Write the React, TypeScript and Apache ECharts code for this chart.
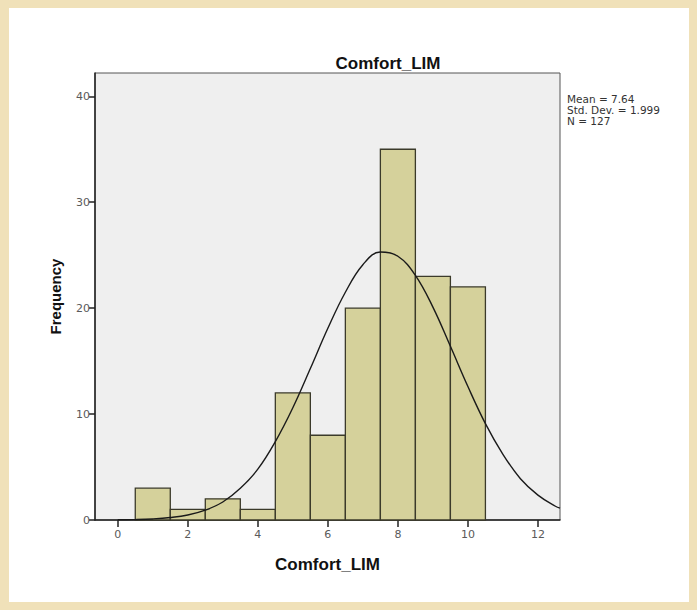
import React, { useEffect, useRef } from "react";
import * as echarts from "echarts";

const binCenters = [1, 2, 3, 4, 5, 6, 7, 8, 9, 10];
const frequencies = [3, 1, 2, 1, 12, 8, 20, 35, 23, 22];
const curveX = [0, 0.5, 1, 1.5, 2, 2.5, 3, 3.5, 4, 4.5, 5, 5.5, 6, 6.5, 7, 7.5, 8, 8.5, 9, 9.5, 10, 10.5, 11, 11.5, 12, 12.5, 12.63];
const curveY = [0.02, 0.04, 0.1, 0.23, 0.47, 0.93, 1.7, 3.0, 4.8, 7.4, 10.6, 14.3, 18.1, 21.5, 24.1, 25.3, 24.9, 23.1, 20.1, 16.4, 12.6, 9.1, 6.2, 3.9, 2.35, 1.3, 1.12];
const xTicks = [0, 2, 4, 6, 8, 10, 12];
const yTicks = [0, 10, 20, 30, 40];
const statLines = ["Mean = 7.64", "Std. Dev. = 1.999", "N = 127"];
const titleText = "Comfort_LIM";
const xName = "Comfort_LIM";
const yName = "Frequency";

export default function App() {
  const ref = useRef<HTMLDivElement>(null);
  useEffect(() => {
    if (!ref.current) return;
    const chart = echarts.init(ref.current, null, { renderer: "svg" });
    const barData = binCenters.map((c, i) => [c - 0.5, c + 0.5, frequencies[i]]);
    const lineData = curveX.map((x, i) => [x, curveY[i]]);
    chart.setOption({
      animation: false,
      backgroundColor: "#f0e1b9",
      graphic: [
        {
          type: "rect",
          z: -10,
          silent: true,
          shape: { x: 9, y: 8, width: 680, height: 594 },
          style: { fill: "#ffffff" },
        },
        {
          type: "text",
          left: 567,
          top: 93,
          style: {
            text: statLines.join("\n"),
            font: "10.5px 'DejaVu Sans'",
            lineHeight: 11,
            fill: "#333",
          },
        },
      ],
      title: {
        text: titleText,
        left: 383,
        top: 50,
        textAlign: "center",
        textStyle: { fontFamily: "Liberation Sans", fontWeight: "bold", fontSize: 17, color: "#111" },
      },
      grid: {
        left: 95,
        top: 73,
        right: 137,
        bottom: 90,
        show: true,
        backgroundColor: "#efefef",
        borderColor: "#555",
        borderWidth: 1,
      },
      xAxis: {
        type: "value",
        min: -0.65,
        max: 12.63,
        name: xName,
        nameLocation: "middle",
        nameGap: 36,
        nameTextStyle: { fontFamily: "Liberation Sans", fontWeight: "bold", fontSize: 17, color: "#111" },
        axisLine: { show: true, onZero: false, lineStyle: { color: "#222", width: 1.5 } },
        axisTick: { show: true, customValues: xTicks, length: 7, lineStyle: { color: "#222", width: 1.5 } },
        axisLabel: { customValues: xTicks, color: "#5a5a5a", fontFamily: "DejaVu Sans", fontSize: 11, margin: 9 },
        splitLine: { show: false },
      },
      yAxis: {
        type: "value",
        min: 0,
        max: 42.2,
        name: yName,
        nameLocation: "middle",
        nameGap: 32,
        nameTextStyle: { fontFamily: "Liberation Sans", fontWeight: "bold", fontSize: 15, color: "#111" },
        axisLine: { show: true, onZero: false, lineStyle: { color: "#222", width: 1.5 } },
        axisTick: { show: true, customValues: yTicks, length: 6, lineStyle: { color: "#222", width: 1.5 } },
        axisLabel: { customValues: yTicks, color: "#5a5a5a", fontFamily: "DejaVu Sans", fontSize: 11, margin: 5 },
        splitLine: { show: false },
      },
      series: [
        {
          type: "custom",
          data: barData,
          renderItem: (params: any, api: any) => {
            const x0 = api.value(0);
            const x1 = api.value(1);
            const v = api.value(2);
            const p0 = api.coord([x0, v]);
            const p1 = api.coord([x1, 0]);
            return {
              type: "rect",
              shape: { x: p0[0], y: p0[1], width: p1[0] - p0[0], height: p1[1] - p0[1] },
              style: { fill: "#d5d19b", stroke: "#3b3a2a", lineWidth: 1.3 },
            };
          },
          encode: { x: [0, 1], y: 2 },
          z: 2,
        },
        {
          type: "line",
          data: lineData,
          smooth: 0.4,
          showSymbol: false,
          lineStyle: { color: "#1a1a1a", width: 1.4 },
          z: 3,
        },
      ],
    });
    return () => chart.dispose();
  }, []);
  return <div ref={ref} style={{ position: "fixed", left: 0, top: 0, width: 697, height: 610 }} />;
}
